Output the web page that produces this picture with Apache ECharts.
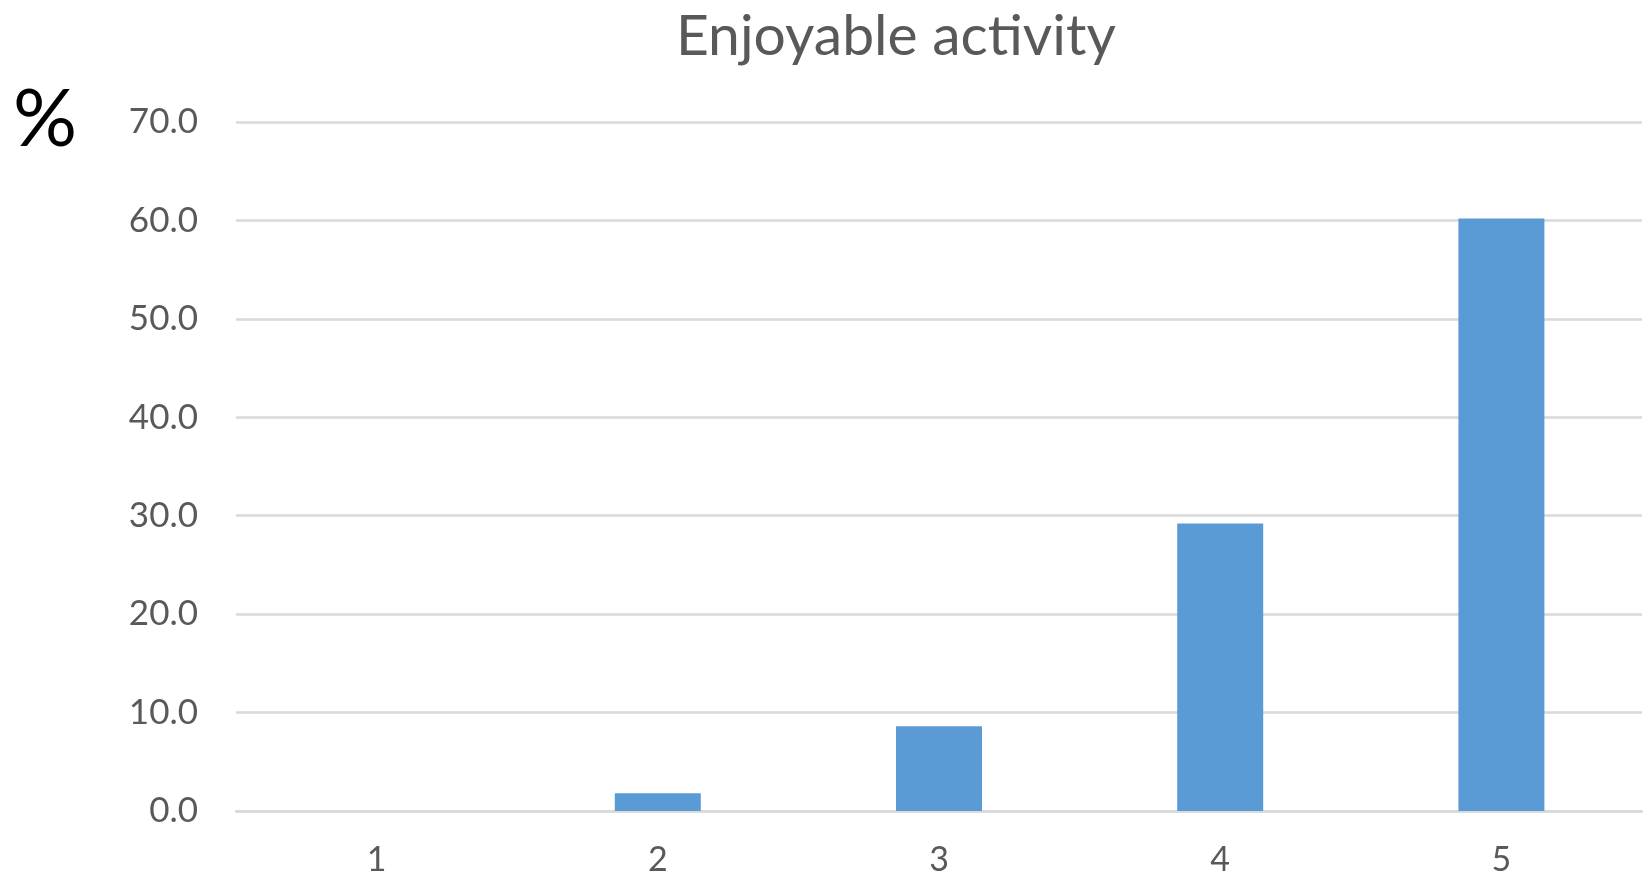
<!DOCTYPE html>
<html>
<head>
<meta charset="utf-8">
<title>Enjoyable activity</title>
<script src="https://cdn.jsdelivr.net/npm/echarts@6/dist/echarts.min.js"></script>
<style>
    html, body { margin: 0; padding: 0; background: #fff; }
    #chart { width: 1645px; height: 877px; }
</style>
</head>
<body>
<div id="chart"></div>
<script>
// rating scale 1..5, share of answers in percent
const categories = ['1', '2', '3', '4', '5'];
const percentValues = [0, 1.8, 8.6, 29.2, 60.2];
const yTicks = [0, 10, 20, 30, 40, 50, 60, 70];

const chart = echarts.init(document.getElementById('chart'));
const textGrey = '#595959';
const gridGrey = '#d9d9d9';

const option = {
    animation: false,
    title: [
        {
            text: 'Enjoyable activity',
            left: 676,
            top: 8,
            padding: 0,
            textStyle: {
                fontFamily: 'Lato',
                fontWeight: 'normal',
                fontSize: 57,
                color: textGrey
            }
        },
        {
            text: '%',
            left: 13,
            top: 80,
            padding: 0,
            textStyle: {
                fontFamily: 'Lato',
                fontWeight: 'normal',
                fontSize: 80,
                color: '#000'
            }
        }
    ],
    grid: {
        left: 236,
        right: 3,
        top: 122,
        bottom: 65
    },
    xAxis: {
        type: 'category',
        data: categories,
        axisTick: { show: false },
        axisLine: { lineStyle: { color: gridGrey, width: 2.5 } },
        axisLabel: {
            margin: 32,
            fontFamily: 'Lato',
            fontSize: 34,
            color: textGrey
        }
    },
    yAxis: {
        type: 'value',
        min: yTicks[0],
        max: yTicks[yTicks.length - 1],
        interval: 10,
        axisLine: { show: false },
        axisTick: { show: false },
        splitLine: { lineStyle: { color: gridGrey, width: 2.5 } },
        axisLabel: {
            margin: 38,
            fontFamily: 'Lato',
            fontSize: 35,
            color: textGrey,
            formatter: function (v) { return v.toFixed(1); }
        }
    },
    series: [
        {
            type: 'bar',
            data: percentValues,
            barWidth: 86,
            itemStyle: { color: '#5b9bd5' }
        }
    ]
};

chart.setOption(option);
</script>
</body>
</html>
